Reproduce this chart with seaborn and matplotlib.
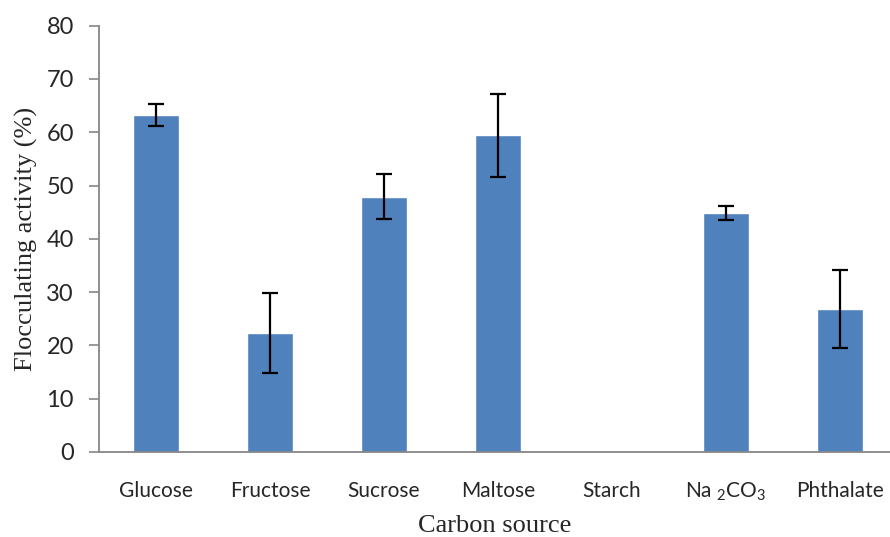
import matplotlib
matplotlib.use("Agg")
import matplotlib.pyplot as plt
import seaborn as sns
import pandas as pd
import numpy as np

categories = ["Glucose", "Fructose", "Sucrose", "Maltose", "Starch", "Na $_{2}$CO$_{3}$", "Phthalate"]
values = [63.2, 22.4, 47.9, 59.4, 0.0, 44.9, 26.9]
errors = [2.1, 7.5, 4.2, 7.7, 0.0, 1.3, 7.3]
yticks = [0, 10, 20, 30, 40, 50, 60, 70, 80]

sns.set_theme(style="white")
plt.rcParams["font.family"] = ["Lato", "DejaVu Sans"]
plt.rcParams["mathtext.default"] = "regular"

df = pd.DataFrame({"source": categories, "activity": values})

W, H = 890, 537
fig = plt.figure(figsize=(W / 100, H / 100), dpi=100)
left, right, y0, y80 = 99, 890, 452, 25.7
ax = fig.add_axes([left / W, (H - y0) / H, (right - left) / W, (y0 - y80) / H])

sns.barplot(data=df, x="source", y="activity", color="#4F81BD", saturation=1,
            width=0.4, ax=ax, errorbar=None)

x = np.arange(len(categories))
mask = np.array(errors) > 0
ax.errorbar(x[mask], np.array(values)[mask], yerr=np.array(errors)[mask], fmt="none",
            ecolor="black", elinewidth=1.6, capsize=6, capthick=1.6)

ax.set_xlim(-0.5, -0.5 + (right - left) / 114.0)
ax.set_ylim(0, 80)
ax.set_yticks(yticks)
ax.set_yticklabels([str(t) for t in yticks], fontsize=17)
ax.tick_params(axis="y", which="major", direction="out", length=7, width=1.2,
               color="#868686", left=True, pad=11)
ax.tick_params(axis="x", length=0, labelsize=15, pad=21)

for s in ["top", "right"]:
    ax.spines[s].set_visible(False)
for s in ["left", "bottom"]:
    ax.spines[s].set_color("#868686")
    ax.spines[s].set_linewidth(1.3)

ax.set_xlabel("Carbon source", family=["Liberation Serif"], fontsize=19, labelpad=8)
ax.set_ylabel("Flocculating activity (%)", family=["Liberation Serif"], fontsize=19, labelpad=6)

fig.savefig("out.png", dpi=100)
